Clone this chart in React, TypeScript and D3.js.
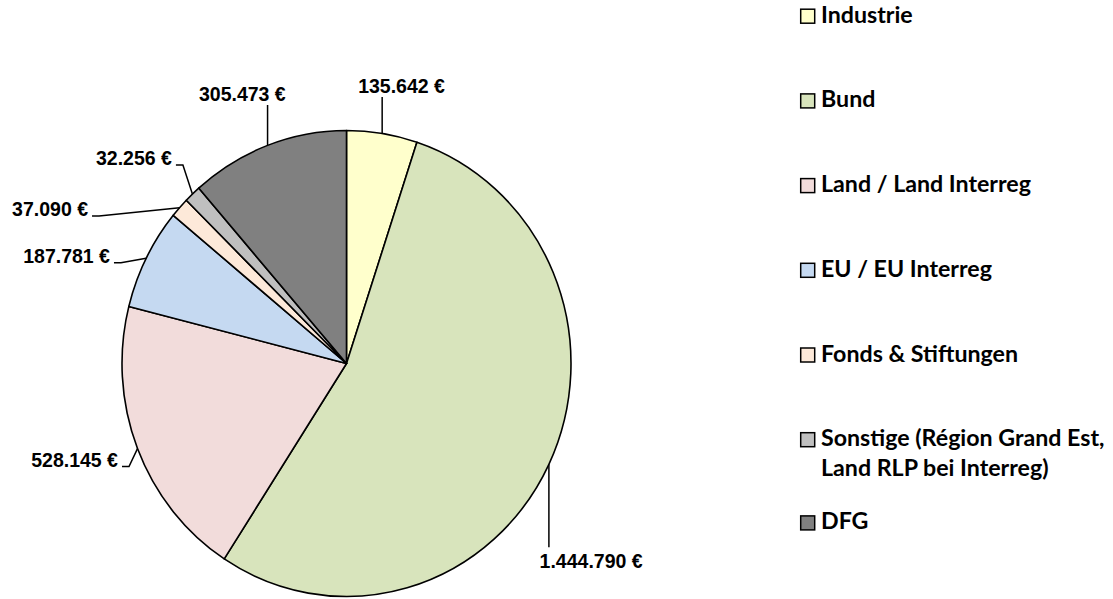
import React from "react";
import * as d3 from "d3";

const categories = [
  "Industrie",
  "Bund",
  "Land / Land Interreg",
  "EU / EU Interreg",
  "Fonds & Stiftungen",
  "Sonstige (Région Grand Est,|Land RLP bei Interreg)",
  "DFG",
];
const values = [135642, 1444790, 528145, 187781, 37090, 32256, 305473];
const valueLabels = ["135.642 €", "1.444.790 €", "528.145 €", "187.781 €", "37.090 €", "32.256 €", "305.473 €"];
const colors = ["#FFFFCC", "#D8E4BC", "#F2DCDB", "#C5D9F1", "#FDE9D9", "#BFBFBF", "#808080"];

// label layout: offset of text from the slice's outer anchor point
const labelLayout = [
  { kind: "up", dx: -24, dy: -40.5 },
  { kind: "down", dx: -9.3, dy: 104 },
  { kind: "left", dx: -19.5, dy: 18 },
  { kind: "left", dx: -36.2, dy: 4.4 },
  { kind: "left", dx: -91.6, dy: 8.4 },
  { kind: "left", dx: -20.5, dy: -29 },
  { kind: "up", dx: -68.6, dy: -44.4 },
];

const W = 1113;
const H = 599;
const cx = 346.5;
const cy = 363.5;
const rx = 224.5;
const ry = 233;

export default function App() {
  const pie = d3.pie<number>().sort(null).value((d) => d);
  const arcs = pie(values);
  const arcGen = d3.arc<d3.PieArcDatum<number>>().innerRadius(0).outerRadius(rx);

  const labelFont = "'Liberation Sans', Arial, sans-serif";
  const legendFont = "Lato, 'Open Sans', sans-serif";

  return (
    <svg width={W} height={H} style={{ position: "absolute", left: 0, top: 0, background: "#fff" }}>
      <g transform={`translate(${cx},${cy}) scale(1,${ry / rx})`}>
        {arcs.map((a, i) => (
          <path
            key={i}
            d={arcGen(a) || ""}
            fill={colors[i]}
            stroke="#000"
            strokeWidth={1.6}
            strokeLinejoin="round"
            vectorEffect="non-scaling-stroke"
          />
        ))}
      </g>
      {arcs.map((a, i) => {
        const mid = (a.startAngle + a.endAngle) / 2;
        const ax = cx + rx * Math.sin(mid);
        const ay = cy - ry * Math.cos(mid);
        const L = labelLayout[i];
        const tx = ax + L.dx;
        const ty = ay + L.dy;
        let path = "";
        let anchor: "start" | "end" = "start";
        if (L.kind === "up") {
          path = `M${ax},${ay} L${ax},${ty + 4}`;
        } else if (L.kind === "down") {
          path = `M${ax},${ay} L${ax},${ty - 21}`;
        } else {
          anchor = "end";
          path = `M${ax},${ay} L${tx + 11},${ty} L${tx + 4},${ty}`;
        }
        return (
          <g key={"l" + i}>
            <path d={path} fill="none" stroke="#000" strokeWidth={1.5} />
            <text
              x={tx}
              y={ty}
              textAnchor={anchor}
              fontFamily={labelFont}
              fontWeight="bold"
              fontSize={19.5}
              fill="#000"
            >
              {valueLabels[i]}
            </text>
          </g>
        );
      })}
      {categories.map((c, i) => {
        const base = 22.7 + i * 84.7 - (i === 6 ? 1.5 : 0);
        const lines = c.split("|");
        return (
          <g key={"lg" + i}>
            <rect x={800.7} y={base - 13.5} width={14} height={14} fill={colors[i]} stroke="#000" strokeWidth={1.5} />
            <text x={821} y={base} fontFamily={legendFont} fontWeight="bold" fontSize={23.2} fill="#000">
              {lines.map((ln, j) => (
                <tspan key={j} x={821} y={base + j * 30}>
                  {ln}
                </tspan>
              ))}
            </text>
          </g>
        );
      })}
    </svg>
  );
}
